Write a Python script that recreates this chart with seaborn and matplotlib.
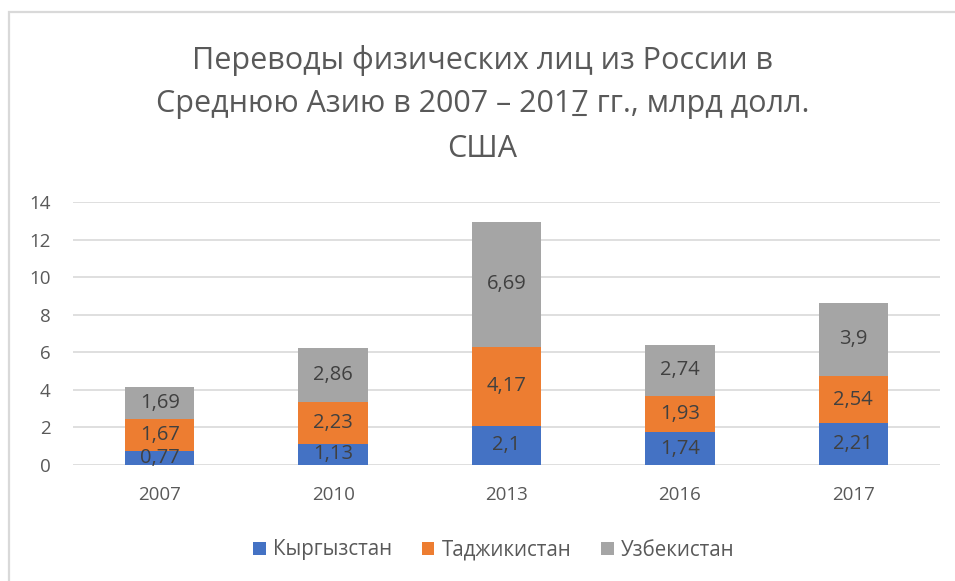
import matplotlib
matplotlib.use("Agg")
import matplotlib.pyplot as plt
from matplotlib.patches import Rectangle, Patch
from matplotlib.lines import Line2D
import seaborn as sns

years = ["2007", "2010", "2013", "2016", "2017"]
kyrgyzstan = [0.77, 1.13, 2.1, 1.74, 2.21]
tajikistan = [1.67, 2.23, 4.17, 1.93, 2.54]
uzbekistan = [1.69, 2.86, 6.69, 2.74, 3.9]
series_names = ["Кыргызстан", "Таджикистан", "Узбекистан"]
title_lines = ["Переводы физических лиц из России в",
               "Среднюю Азию в 2007 – 2017 гг., млрд долл.",
               "США"]

colors = ["#4472C4", "#ED7D31", "#A5A5A5"]
txt_grey = "#595959"
TSIZE = 22

sns.set_theme(style="white")
plt.rcParams['font.family'] = ['Open Sans', 'DejaVu Sans']

fig = plt.figure(figsize=(9.55, 5.81), dpi=100)
fig.patch.set_facecolor("white")
ax = fig.add_axes([73 / 955, 1 - 465 / 581, 867 / 955, 263 / 581])

def fmt(v):
    return ("%g" % v).replace(".", ",")

bottom = [0, 0, 0, 0, 0]
for name, vals, col in zip(series_names, [kyrgyzstan, tajikistan, uzbekistan], colors):
    sns.barplot(x=years, y=vals, bottom=bottom, color=col, width=0.4,
                saturation=1, errorbar=None, linewidth=0, ax=ax)
    cont = ax.containers[-1]
    ax.bar_label(cont, labels=[fmt(v) for v in vals], label_type="center",
                 fontsize=14.5, color="#404040")
    bottom = [b + v for b, v in zip(bottom, vals)]

ax.set_ylim(0, 14)
ax.set_yticks(range(0, 15, 2))
ax.yaxis.grid(True, color="#D9D9D9", linewidth=1.2)
ax.set_axisbelow(True)
for s in ax.spines.values():
    s.set_visible(False)
ax.tick_params(axis="both", length=0, labelsize=13.5, colors=txt_grey)
ax.tick_params(axis="y", pad=16)
ax.tick_params(axis="x", pad=15)
ax.set_xlabel("")
ax.set_ylabel("")
ax.set_xlim(-0.5, 4.5)

handles = [Patch(facecolor=c, edgecolor="none") for c in colors]
fig.legend(handles, series_names, loc="center", bbox_to_anchor=(0.517, 1 - 550 / 581),
           ncol=3, frameon=False, fontsize=14.8, handlelength=0.62, handleheight=0.62,
           handletextpad=0.35, columnspacing=1.45, labelcolor=txt_grey)

# title, line by line
ys = [60, 104, 149]
texts = []
for line, yp in zip(title_lines, ys):
    t = fig.text(0.505, 1 - yp / 581, line, ha="center", va="center",
                 fontsize=TSIZE, color=txt_grey)
    texts.append(t)

# underline under the last "7" of 2017, as in the original
r = fig.canvas.get_renderer()
full = texts[1].get_window_extent(r)
pre = fig.text(0, 0, "Среднюю Азию в 2007 – 201", fontsize=TSIZE)
seven = fig.text(0, 0, "7", fontsize=TSIZE)
wp = pre.get_window_extent(r).width
w7 = seven.get_window_extent(r).width
pre.remove()
seven.remove()
x0 = (full.x0 + wp) / 955
x1 = (full.x0 + wp + w7) / 955
yl = (full.y0 + 4) / 581
fig.add_artist(Line2D([x0 + 0.002, x1 - 0.002], [yl, yl], color=txt_grey, lw=1.5,
                      transform=fig.transFigure))

# chart frame
fig.add_artist(Rectangle((9 / 955, -0.1), 1.2, 1 - 12 / 581 + 0.1, transform=fig.transFigure,
                         fill=False, edgecolor="#D9D9D9", lw=1.6))

fig.savefig("out.png", dpi=100)
